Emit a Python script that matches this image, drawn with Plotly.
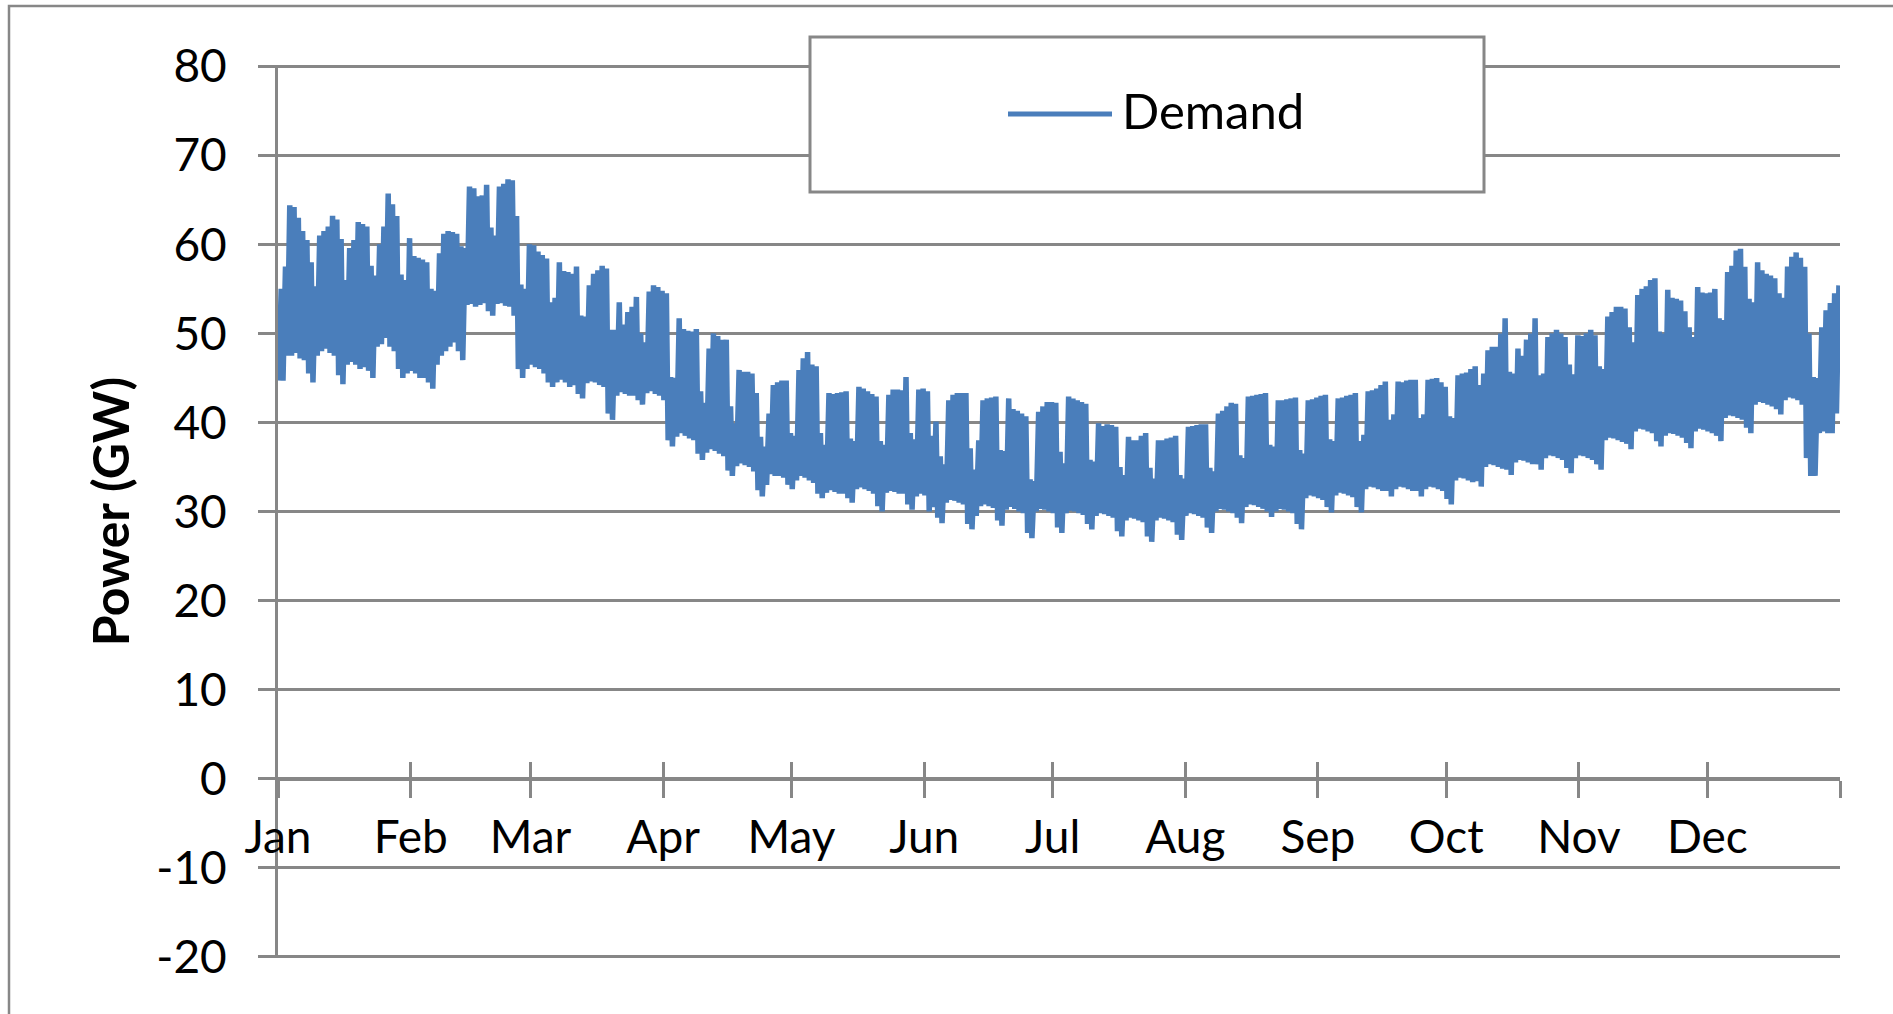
import pandas as pd
import plotly.graph_objects as go

# ---------------- data ----------------
YEAR_START = "2011-01-01"          # 1 Jan is a Saturday
month_ticks = ["2011-01-01", "2011-02-01", "2011-03-01", "2011-04-01", "2011-05-01",
               "2011-06-01", "2011-07-01", "2011-08-01", "2011-09-01", "2011-10-01",
               "2011-11-01", "2011-12-01", "2012-01-01"]
month_labels = ["Jan", "Feb", "Mar", "Apr", "May", "Jun", "Jul", "Aug", "Sep", "Oct",
                "Nov", "Dec", ""]
y_ticks = [-20, -10, 0, 10, 20, 30, 40, 50, 60, 70, 80]
y_tick_labels = ["-20", "-10", "0", "10", "20", "30", "40", "50", "60", "70", "80"]

# daily peak demand (GW); first row = Sat 1 / Sun 2 Jan, then one row per week Mon..Sun
peak_rows = [
    [55.0, 57.5],
    [64.4, 64.2, 63.0, 61.5, 60.5, 58.0, 55.3],
    [61.0, 61.5, 62.0, 63.2, 62.8, 60.6, 56.0],
    [59.6, 60.5, 62.5, 62.3, 62.0, 57.6, 56.5],
    [60.0, 62.0, 65.7, 64.5, 63.2, 56.6, 56.0],
    [60.7, 58.7, 58.5, 58.3, 58.0, 55.0, 54.8],
    [59.0, 61.2, 61.5, 61.4, 61.2, 59.8, 59.6],
    [66.5, 66.3, 65.4, 65.5, 66.7, 61.9, 61.0],
    [66.5, 66.8, 67.3, 67.2, 63.2, 55.5, 55.0],
    [60.0, 59.9, 59.2, 58.8, 58.4, 53.5, 54.0],
    [58.0, 57.0, 56.9, 56.7, 57.5, 52.0, 51.9],
    [55.4, 56.7, 57.1, 57.6, 57.3, 50.4, 50.4],
    [53.5, 51.0, 52.4, 53.0, 54.1, 50.0, 49.0],
    [54.7, 55.4, 55.2, 54.8, 54.5, 45.1, 45.0],
    [51.7, 50.5, 50.3, 50.2, 50.5, 43.5, 42.2],
    [48.3, 50.0, 49.7, 49.3, 49.3, 41.8, 39.9],
    [45.9, 45.7, 45.7, 45.5, 43.3, 38.4, 37.3],
    [41.0, 44.2, 44.5, 44.7, 44.7, 38.8, 38.5],
    [45.9, 47.2, 47.9, 46.5, 46.3, 38.8, 37.5],
    [43.3, 43.2, 43.3, 43.4, 43.5, 38.2, 37.9],
    [44.0, 43.8, 43.5, 43.2, 42.9, 37.9, 37.5],
    [43.1, 43.7, 43.7, 43.6, 45.1, 38.8, 38.1],
    [43.7, 43.8, 43.5, 38.5, 40.1, 36.2, 35.3],
    [42.5, 43.1, 43.3, 43.3, 43.3, 37.1, 34.7],
    [38.0, 42.5, 42.7, 42.8, 42.9, 36.9, 36.8],
    [42.7, 41.5, 41.3, 41.0, 40.7, 33.6, 33.4],
    [41.2, 41.8, 42.3, 42.3, 42.2, 36.7, 35.4],
    [42.9, 42.7, 42.5, 42.3, 42.1, 35.8, 35.6],
    [39.9, 39.6, 39.8, 39.7, 39.5, 35.0, 34.1],
    [38.4, 38.0, 38.0, 38.5, 38.8, 34.9, 33.7],
    [38.0, 38.0, 38.2, 38.3, 38.5, 34.1, 33.7],
    [39.5, 39.6, 39.7, 39.8, 39.8, 34.9, 34.5],
    [41.0, 41.3, 41.8, 42.2, 42.1, 36.3, 36.0],
    [42.9, 43.0, 43.1, 43.2, 43.3, 37.5, 37.3],
    [42.5, 42.5, 42.6, 42.7, 42.8, 36.9, 36.5],
    [42.5, 42.6, 42.8, 43.0, 43.1, 38.1, 37.9],
    [42.7, 42.8, 43.0, 43.1, 43.3, 37.9, 38.6],
    [43.5, 43.6, 43.8, 44.2, 44.6, 40.3, 40.9],
    [44.6, 44.5, 44.7, 44.8, 44.8, 40.5, 40.9],
    [44.8, 44.9, 45.0, 44.5, 44.0, 40.7, 40.5],
    [45.3, 45.5, 45.6, 46.0, 46.3, 44.2, 45.5],
    [48.1, 48.5, 48.5, 50.0, 51.7, 45.7, 45.5],
    [48.3, 47.5, 49.3, 50.0, 51.7, 45.3, 45.5],
    [49.6, 50.0, 50.4, 50.0, 49.6, 46.5, 45.4],
    [49.8, 49.7, 50.0, 50.4, 49.8, 46.3, 46.0],
    [51.9, 52.4, 53.0, 53.0, 52.8, 50.7, 49.0],
    [54.3, 55.0, 55.3, 56.0, 56.2, 50.2, 50.0],
    [54.9, 54.0, 53.9, 53.7, 52.5, 50.7, 49.6],
    [55.2, 54.6, 54.5, 54.6, 55.0, 51.7, 51.5],
    [56.9, 57.6, 59.3, 59.5, 57.5, 53.9, 53.5],
    [58.0, 57.1, 56.7, 56.5, 56.2, 54.5, 54.0],
    [57.5, 58.6, 59.1, 58.5, 57.5, 50.0, 45.1],
    [45.0, 50.7, 52.6, 53.4, 54.5, 55.4],
]

# daily night-time minimum demand (GW), same layout as peak_rows
low_rows = [
    [44.7, 44.7],
    [47.5, 47.5, 47.8, 47.2, 47.0, 45.5, 44.5],
    [47.5, 48.0, 48.3, 47.8, 47.5, 45.3, 44.3],
    [46.5, 46.8, 46.5, 46.0, 46.2, 45.8, 45.0],
    [48.5, 48.8, 49.5, 48.5, 48.0, 46.0, 45.0],
    [45.5, 45.8, 45.5, 45.0, 45.0, 44.5, 43.8],
    [46.5, 47.5, 48.0, 48.5, 49.0, 48.0, 47.0],
    [53.2, 53.3, 53.0, 53.2, 53.4, 52.5, 52.0],
    [53.3, 53.4, 53.1, 53.0, 52.0, 46.0, 45.0],
    [46.0, 46.5, 46.2, 46.0, 45.5, 44.5, 44.0],
    [44.5, 44.8, 44.5, 44.0, 44.2, 43.2, 42.7],
    [44.4, 44.6, 44.5, 44.2, 44.0, 41.0, 40.3],
    [43.0, 43.4, 43.2, 43.0, 43.0, 42.5, 42.0],
    [43.3, 43.5, 43.2, 43.0, 42.5, 38.0, 37.3],
    [38.4, 38.8, 38.5, 38.2, 38.0, 36.5, 35.8],
    [36.6, 37.0, 36.8, 36.5, 36.2, 34.6, 34.0],
    [35.1, 35.4, 35.2, 35.0, 34.5, 32.4, 31.7],
    [33.0, 34.2, 34.0, 34.0, 33.8, 33.0, 32.5],
    [33.5, 34.0, 33.8, 33.5, 33.2, 32.0, 31.5],
    [32.1, 32.4, 32.2, 32.0, 32.0, 31.5, 31.0],
    [32.5, 32.7, 32.5, 32.3, 32.0, 30.6, 30.0],
    [32.1, 32.3, 32.2, 32.0, 32.0, 30.8, 30.2],
    [31.7, 32.0, 31.8, 30.0, 30.5, 29.3, 28.7],
    [31.0, 31.3, 31.2, 31.0, 30.8, 28.6, 28.0],
    [29.5, 30.6, 30.8, 30.6, 30.4, 29.0, 28.4],
    [30.2, 30.5, 30.3, 30.0, 29.8, 27.6, 27.0],
    [30.0, 30.3, 30.2, 30.0, 29.8, 28.2, 27.6],
    [29.8, 30.1, 30.0, 29.8, 29.6, 28.6, 28.0],
    [29.5, 29.8, 29.7, 29.5, 29.3, 27.8, 27.2],
    [29.0, 29.3, 29.2, 29.0, 28.8, 27.2, 26.6],
    [29.0, 29.3, 29.2, 29.0, 28.8, 27.4, 26.8],
    [29.5, 29.8, 29.7, 29.5, 29.3, 28.2, 27.6],
    [30.0, 30.3, 30.2, 30.0, 29.8, 29.3, 28.7],
    [30.5, 30.8, 30.7, 30.5, 30.3, 30.0, 29.4],
    [30.0, 30.3, 30.2, 30.0, 29.8, 28.6, 28.0],
    [31.5, 31.8, 31.7, 31.5, 31.3, 30.5, 29.9],
    [31.8, 32.1, 32.0, 31.8, 31.6, 30.5, 29.9],
    [32.5, 32.8, 32.7, 32.5, 32.3, 32.3, 31.7],
    [32.5, 32.8, 32.7, 32.5, 32.3, 32.3, 31.7],
    [32.5, 32.8, 32.7, 32.5, 32.3, 31.4, 30.8],
    [33.5, 33.8, 33.7, 33.5, 33.3, 33.4, 32.8],
    [35.0, 35.3, 35.2, 35.0, 34.8, 34.7, 34.1],
    [35.5, 35.8, 35.7, 35.5, 35.3, 35.3, 34.7],
    [36.0, 36.3, 36.2, 36.0, 35.8, 34.9, 34.3],
    [36.0, 36.3, 36.2, 36.0, 35.8, 35.3, 34.7],
    [38.0, 38.3, 38.2, 38.0, 37.8, 37.6, 37.0],
    [39.0, 39.3, 39.2, 39.0, 38.8, 37.9, 37.3],
    [38.5, 38.8, 38.7, 38.5, 38.3, 37.7, 37.1],
    [39.0, 39.3, 39.2, 39.0, 38.8, 38.5, 37.9],
    [40.5, 40.8, 40.7, 40.5, 40.3, 39.4, 38.8],
    [42.0, 42.3, 42.2, 42.0, 41.8, 41.5, 40.9],
    [42.5, 42.8, 42.7, 42.5, 42.0, 36.0, 34.0],
    [34.0, 38.8, 39.0, 38.8, 38.8, 41.0],
]

# ---------------- build the hourly-style line (night minimum, evening peak) ----------------
daily_peak = [v for row in peak_rows for v in row]
daily_low = [v for row in low_rows for v in row]
start = pd.Timestamp(YEAR_START)
xs, ys = [], []
for d, (lo, hi) in enumerate(zip(daily_low, daily_peak)):
    day = start + pd.Timedelta(days=d)
    xs += [day + pd.Timedelta(hours=4), day + pd.Timedelta(hours=18)]
    ys += [lo, hi]

GRAY = "#878787"
BLUE = "#4A7EBB"
FONT = "Lato"
FS = 46

fig = go.Figure()
fig.add_trace(go.Scatter(x=xs, y=ys, mode="lines", name="Demand",
                         line=dict(color=BLUE, width=5.5), hoverinfo="skip"))
# helper trace so that the overlaid x-axis (upper half of the month ticks) is drawn
fig.add_trace(go.Scatter(x=month_ticks, y=[None] * len(month_ticks), xaxis="x2",
                         mode="lines", showlegend=False, hoverinfo="skip"))

# plot area in pixels: left 278, right 1840, top 65, bottom 958
L, R, T, B = 278, 1840, 65, 958
W, H = 1893, 1014


def px(xp):
    return (xp - L) / (R - L)


def py(yp):
    return (B - yp) / (B - T)


PAD = 0.15   # tiny padding so that the -20 and 80 gridlines are drawn
y_range = [y_ticks[0] - PAD, y_ticks[-1] + PAD]
zero_pos = (0 - y_range[0]) / (y_range[1] - y_range[0])

fig.update_layout(
    width=W, height=H,
    margin=dict(l=L, r=W - R, t=T, b=H - B),
    paper_bgcolor="white", plot_bgcolor="white",
    showlegend=False,
    font=dict(family=FONT, size=FS, color="black"),
    xaxis=dict(type="date", range=[month_ticks[0], month_ticks[-1]],
               anchor="free", position=zero_pos,
               tickmode="array", tickvals=month_ticks, ticktext=month_labels,
               ticks="outside", ticklen=17, tickwidth=3, tickcolor=GRAY,
               showline=True, linecolor=GRAY, linewidth=3,
               showgrid=False, zeroline=False, automargin=False,
               ticklabelstandoff=0,
               tickfont=dict(family=FONT, size=FS, color="black")),
    xaxis2=dict(type="date", range=[month_ticks[0], month_ticks[-1]],
                overlaying="x", anchor="free", position=zero_pos,
                tickmode="array", tickvals=month_ticks,
                ticks="inside", ticklen=17, tickwidth=3, tickcolor=GRAY,
                showticklabels=False, showline=False, showgrid=False,
                zeroline=False, automargin=False),
    yaxis=dict(range=y_range, tickmode="array", tickvals=y_ticks, ticktext=y_tick_labels,
               ticks="outside", ticklen=17, tickwidth=3, tickcolor=GRAY,
               showline=True, linecolor=GRAY, linewidth=3,
               showgrid=True, gridcolor=GRAY, gridwidth=3,
               zeroline=False, automargin=False, ticklabelstandoff=22,
               tickfont=dict(family=FONT, size=FS, color="black"),
               title=dict(text="<b>Power (GW)</b>", standoff=11,
                          font=dict(family=FONT, size=50, color="black"))),
)

# outer chart border (left / top edges visible)
fig.add_shape(type="rect", xref="paper", yref="paper",
              x0=px(9), x1=px(1905), y0=py(1025), y1=py(6),
              line=dict(color=GRAY, width=2.5), fillcolor="rgba(0,0,0,0)", layer="below")
# legend box
fig.add_shape(type="rect", xref="paper", yref="paper",
              x0=px(810), x1=px(1484), y0=py(192), y1=py(37),
              line=dict(color=GRAY, width=3), fillcolor="white", layer="above")
fig.add_shape(type="line", xref="paper", yref="paper",
              x0=px(1008), x1=px(1112), y0=py(114), y1=py(114),
              line=dict(color=BLUE, width=5), layer="above")
fig.add_annotation(xref="paper", yref="paper", x=px(1120), y=py(110),
                   xanchor="left", yanchor="middle", text="Demand", showarrow=False,
                   font=dict(family=FONT, size=49, color="black"))

fig.write_html("out.html", config={"displayModeBar": False},
               post_script="document.body.style.margin='0';document.body.style.overflow='hidden';")
